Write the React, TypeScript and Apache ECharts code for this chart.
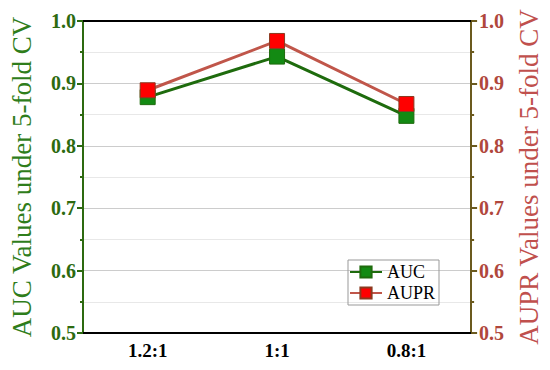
import React, { useEffect, useRef } from "react";
import * as echarts from "echarts";

const categories = ["1.2:1", "1:1", "0.8:1"];
const aucValues = [0.878, 0.943, 0.848];
const auprValues = [0.889, 0.968, 0.867];

const SERIF = "'Liberation Serif', 'DejaVu Serif', serif";

export default function App() {
  const ref = useRef<HTMLDivElement>(null);
  useEffect(() => {
    const chart = echarts.init(ref.current!, null, { renderer: "svg" });
    const yCommon = {
      type: "value",
      min: 0.5,
      max: 1.0,
      interval: 0.1,
    };
    chart.setOption({
      animation: false,
      backgroundColor: "#ffffff",
      grid: { left: 80, right: 78, top: 21, bottom: 37 },
      legend: {
        left: 348,
        top: 260,
        orient: "vertical",
        itemWidth: 32,
        itemHeight: 14,
        itemGap: 3,
        padding: [3, 4, 3, 1],
        borderColor: "#999",
        borderWidth: 1,
        textStyle: { fontFamily: SERIF, fontSize: 18, color: "#000" },
        data: ["AUC", "AUPR"],
      },
      xAxis: [
        {
          type: "category",
          data: categories,
          position: "bottom",
          axisLine: { lineStyle: { color: "#000", width: 2 } },
          axisTick: { alignWithLabel: true, length: 6, lineStyle: { color: "#000", width: 2 } },
          axisLabel: {
            fontFamily: SERIF,
            fontWeight: "bold",
            fontSize: 19,
            color: "#000",
            margin: 8,
          },
        },
        {
          type: "category",
          data: categories,
          position: "top",
          axisLine: { lineStyle: { color: "#000", width: 2 } },
          axisTick: {
            alignWithLabel: true,
            inside: true,
            length: 6,
            lineStyle: { color: "#000", width: 2 },
          },
          axisLabel: { show: false },
        },
      ],
      yAxis: [
        {
          ...yCommon,
          position: "left",
          name: "AUC Values under 5-fold CV",
          nameLocation: "middle",
          nameGap: 48,
          nameTextStyle: { fontFamily: SERIF, fontSize: 27, color: "#2f7d1b" },
          axisLine: { show: true, lineStyle: { color: "#2d6a10", width: 2 } },
          axisTick: { show: true, length: 6, lineStyle: { color: "#2d6a10", width: 2 } },
          minorTick: { show: true, splitNumber: 2, length: 3, lineStyle: { color: "#2d6a10", width: 2 } },
          axisLabel: {
            fontFamily: SERIF,
            fontWeight: "bold",
            fontSize: 20,
            color: "#2d6a10",
            margin: 7,
            formatter: (v: number) => v.toFixed(1),
          },
          splitLine: { show: true, lineStyle: { color: "#cccccc", width: 1 } },
          minorSplitLine: { show: true, lineStyle: { color: "#e8e8e8", width: 1 } },
        },
        {
          ...yCommon,
          position: "right",
          name: "AUPR Values under 5-fold CV",
          nameLocation: "middle",
          nameGap: 40,
          nameTextStyle: { fontFamily: SERIF, fontSize: 27, color: "#c0504d" },
          axisLine: { show: true, lineStyle: { color: "#6b5a1e", width: 2 } },
          axisTick: { show: true, length: 6, lineStyle: { color: "#6b5a1e", width: 2 } },
          minorTick: { show: true, splitNumber: 2, length: 3, lineStyle: { color: "#6b5a1e", width: 2 } },
          axisLabel: {
            fontFamily: SERIF,
            fontWeight: "bold",
            fontSize: 20,
            color: "#b0473c",
            margin: 8,
            formatter: (v: number) => v.toFixed(1),
          },
          splitLine: { show: false },
        },
      ],
      series: [
        {
          name: "AUC",
          type: "line",
          data: aucValues,
          symbol: "rect",
          symbolSize: 15,
          lineStyle: { color: "#1e6b0d", width: 3 },
          itemStyle: { color: "#138a13", borderColor: "#1e6b0d", borderWidth: 1 },
        },
        {
          name: "AUPR",
          type: "line",
          data: auprValues,
          symbol: "rect",
          symbolSize: 15,
          lineStyle: { color: "#c0564a", width: 3 },
          itemStyle: { color: "#ff0000", borderColor: "#8a3a20", borderWidth: 1 },
        },
      ],
    });
    return () => chart.dispose();
  }, []);
  return <div ref={ref} style={{ width: 550, height: 370, position: "absolute", left: 0, top: 0 }} />;
}
